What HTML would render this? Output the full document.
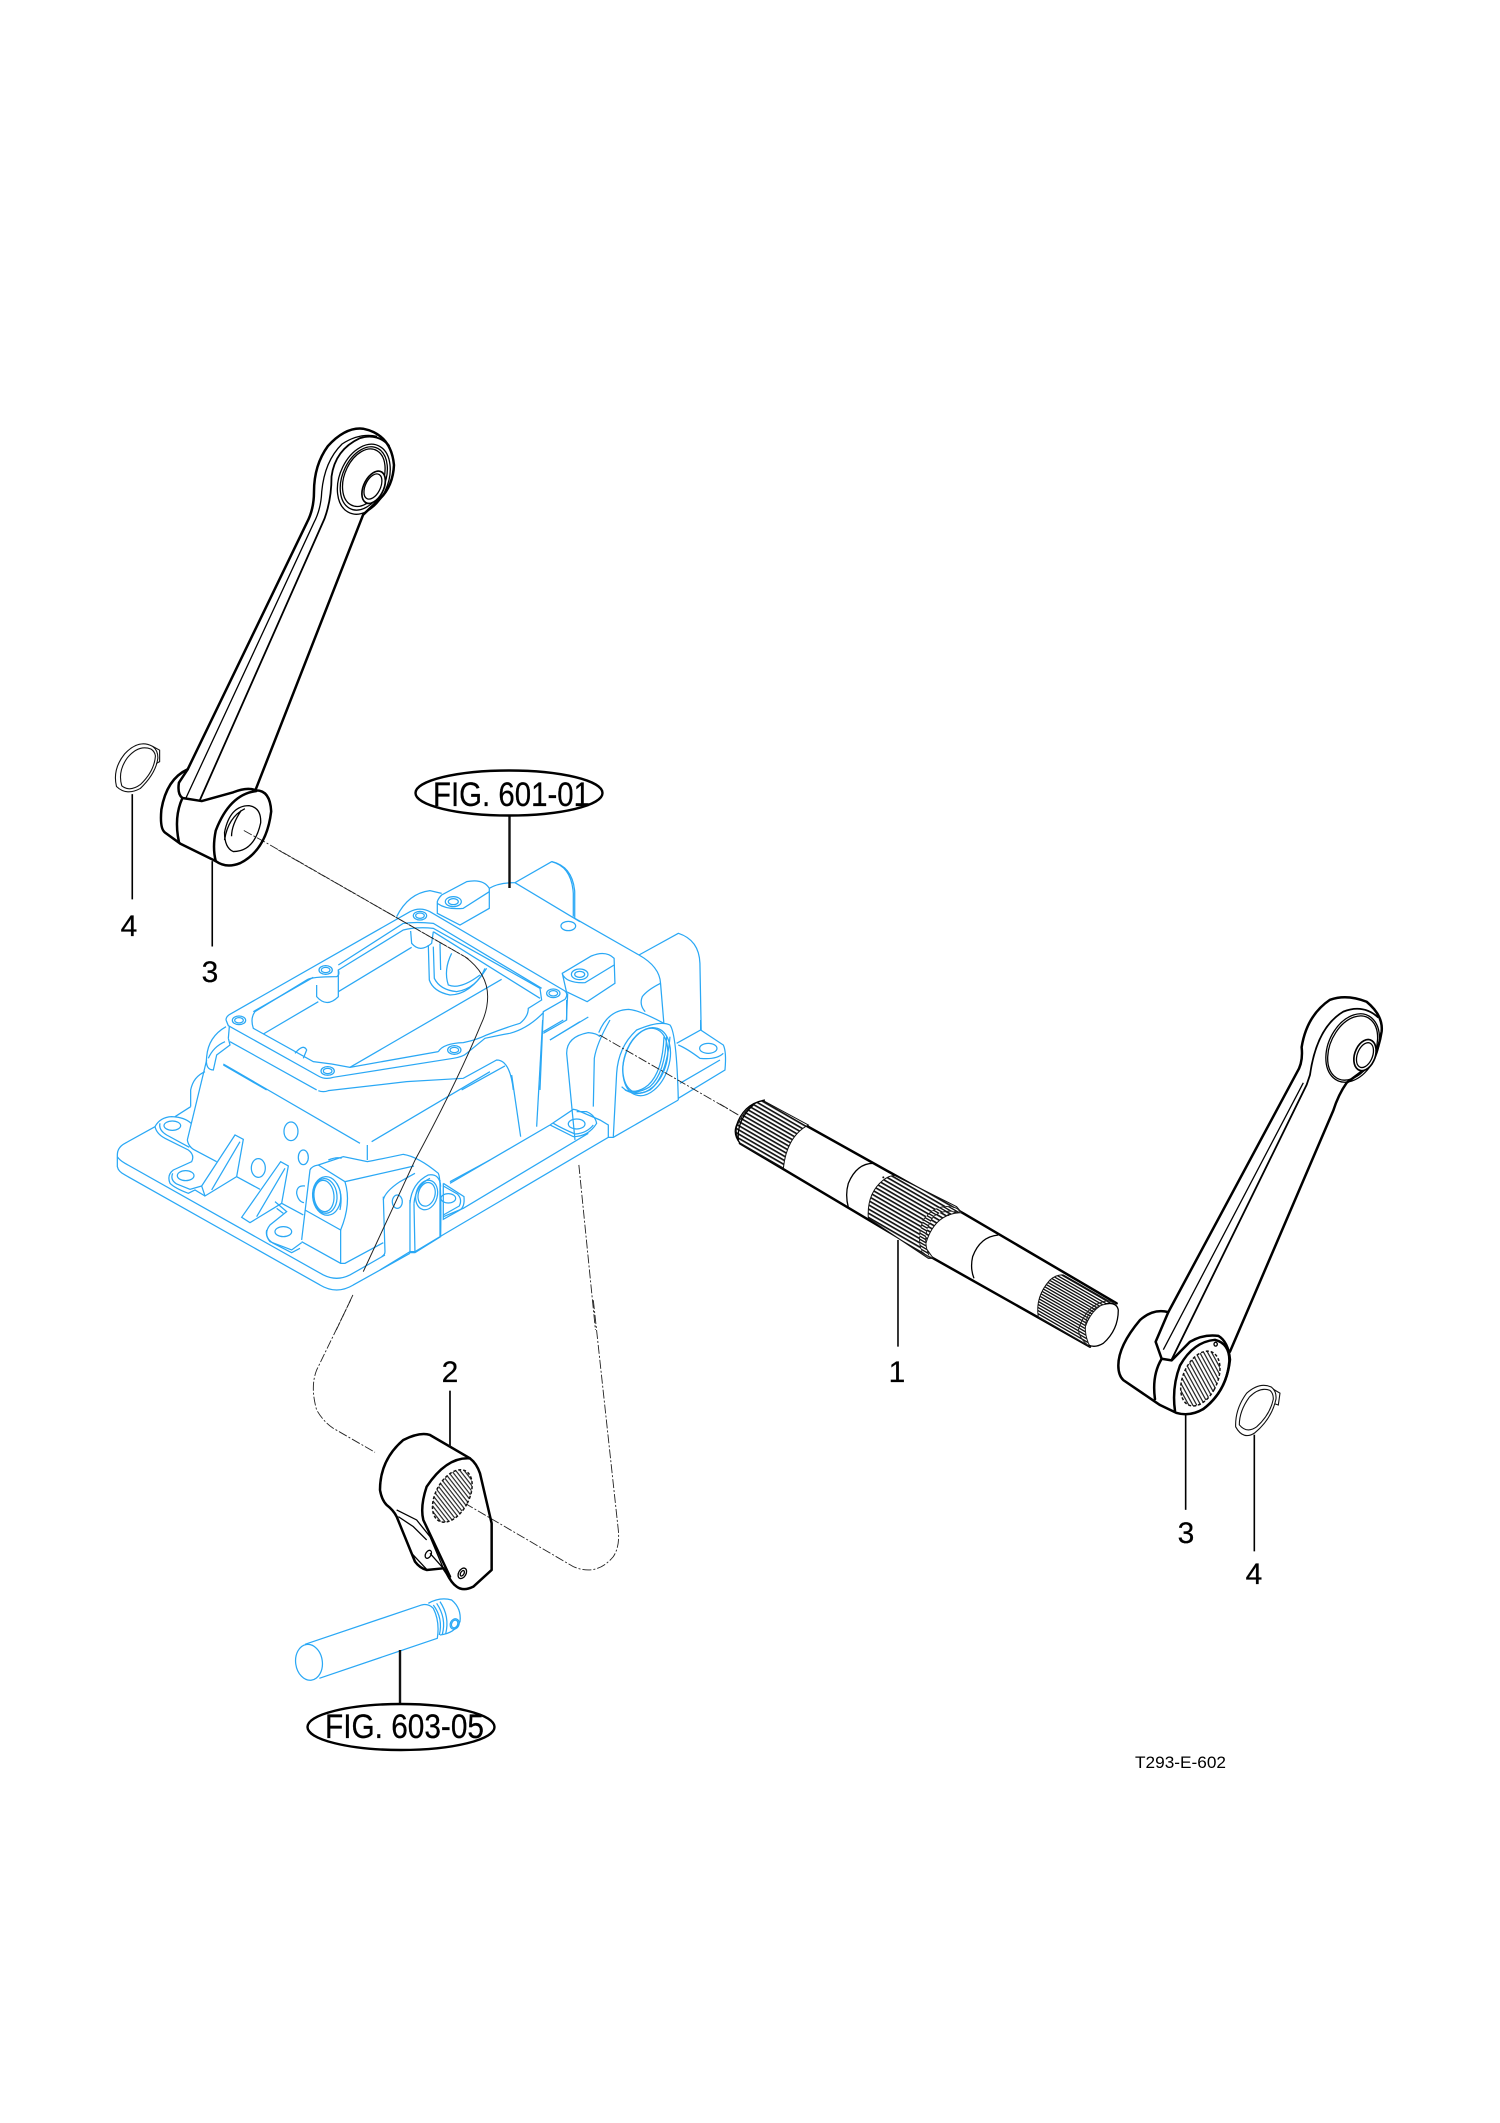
<!DOCTYPE html>
<html><head><meta charset="utf-8"><title>T293-E-602</title>
<style>
html,body{margin:0;padding:0;background:#fff}
svg{display:block;position:absolute;left:0;top:0}
path,ellipse,line,polyline{vector-effect:non-scaling-stroke}
.b path,.b ellipse{fill:none;stroke:#2aa8f5;stroke-width:1.25}
.k{stroke:#000;stroke-width:2.5;fill:none;stroke-linejoin:round;stroke-linecap:round}
.k2{stroke:#000;stroke-width:1.3;fill:none}
.r{stroke:#111;stroke-width:1.1;fill:none}
.d{stroke:#222;stroke-width:.9;fill:none;stroke-dasharray:9 2 2 2}
.s{stroke:#222;stroke-width:1;fill:none}
text{font-family:"Liberation Sans",Arial,sans-serif;fill:#000;stroke:#000;stroke-width:.25}
.n{font-size:30px;text-anchor:middle}
</style></head><body>
<svg width="1500" height="2123" viewBox="0 0 1500 2123" xmlns="http://www.w3.org/2000/svg">
<defs>
<pattern id="h" patternUnits="userSpaceOnUse" width="40" height="11" patternTransform="rotate(30)"><rect width="40" height="11" fill="#fff"/><rect width="40" height="5" fill="#111"/></pattern>
<pattern id="h2" patternUnits="userSpaceOnUse" width="40" height="8" patternTransform="rotate(30)"><rect width="40" height="8" fill="#fff"/><rect width="40" height="4" fill="#111"/></pattern>
<pattern id="h3" patternUnits="userSpaceOnUse" width="40" height="10" patternTransform="rotate(24)"><rect width="40" height="10" fill="#fff"/><rect width="40" height="3.5" fill="#222"/></pattern>
</defs>

<!-- Housing: bottom-left -->
<g class="b" transform="translate(110 1060) scale(.3333)">
<path d="M135,200 L45,250 Q22,262 22,285 L22,320 Q25,335 45,345 L630,675 Q680,705 730,675 L900,580"/>
<path d="M22,290 Q28,300 45,310 L640,645 Q680,665 720,645 L825,585"/>
<path d="M135,200 Q150,172 185,170 Q225,172 243,190"/>
<path d="M135,200 Q140,222 165,235 L235,270 Q255,285 245,305 L190,330 Q170,345 180,370 Q195,385 235,400 L255,390 L285,408"/>
<path d="M150,190 Q145,210 170,225 L238,262"/>
<path d="M242,140 L195,170"/>
<path d="M232,240 L290,0"/>
<path d="M242,140 L242,90 Q250,50 285,35"/>
<path d="M232,240 Q235,258 250,268 L320,305"/>
<ellipse cx="187" cy="197" rx="25" ry="14"/><ellipse cx="227" cy="347" rx="25" ry="15"/>
<path d="M275,378 L375,225 L400,238 L380,350 L285,408 Z"/>
<path d="M305,390 L390,245"/>
<path d="M188,340 Q180,360 200,372 L240,388 L275,378"/>
<path d="M380,350 L450,388"/>
<path d="M395,472 L512,305 L535,318 L515,430 L420,488 Z"/>
<path d="M440,470 L525,325"/>
<path d="M495,425 L530,455 L480,495 Q460,520 480,545 L545,570 L575,548"/>
<path d="M500,445 L520,460"/>
<path d="M470,510 Q465,535 490,550 L545,578 L570,565"/>
<ellipse cx="520" cy="515" rx="25" ry="15"/>
<ellipse cx="543" cy="214" rx="21" ry="28"/><ellipse cx="445" cy="324" rx="21" ry="28"/><ellipse cx="580" cy="292" rx="15" ry="22"/>
<path d="M585,378 Q560,375 560,400 Q565,425 582,428"/>
<path d="M515,430 L580,465"/>
<path d="M340,12 L750,250"/><path d="M785,245 L1140,35"/><path d="M772,255 L772,300"/>
<path d="M575,540 L600,330 Q605,318 625,315 L700,290 L772,305 Q800,300 880,283 Q925,290 985,340 Q995,360 992,530 L915,578 L900,578 L900,420"/>
<path d="M625,315 L705,365 L912,318"/>
<path d="M705,365 Q725,430 692,510 L585,450"/>
<path d="M575,545 L692,610 L705,610 L820,548"/>
<path d="M692,510 L692,610"/>
<path d="M820,410 L825,575 Q825,585 815,590"/>
<path d="M820,420 Q825,395 870,365 L915,340"/>
<ellipse cx="650" cy="408" rx="42" ry="58" transform="rotate(-5 650 408)"/>
<ellipse cx="645" cy="408" rx="36" ry="52" transform="rotate(-5 645 408)"/>
<ellipse cx="642" cy="408" rx="30" ry="47" transform="rotate(-5 642 408)"/>
<path d="M680,370 Q700,400 690,450"/>
<ellipse cx="862" cy="425" rx="15" ry="20"/>
<path d="M900,430 Q905,370 955,345 Q990,340 992,380"/>
<path d="M912,430 Q918,375 960,355"/>
<path d="M912,430 L915,578"/>
<ellipse cx="950" cy="405" rx="32" ry="45" transform="rotate(15 950 405)"/>
<ellipse cx="950" cy="403" rx="25" ry="36" transform="rotate(15 950 403)"/>
<path d="M655,300 Q680,290 695,295"/>
<path d="M1000,370 L1062,410 Q1065,440 1050,450 L1000,478 L1000,370"/>
<path d="M1000,378 L1042,402 Q1058,418 1048,438 L1000,465"/>
<ellipse cx="1015" cy="415" rx="22" ry="14"/>
<path d="M1020,365 L1140,300"/>
</g>

<!-- Housing: bottom-right -->
<g class="b" transform="translate(380 1020) scale(.3333)">
<path d="M180,650 L685,352 L700,352 L895,240"/>
<path d="M190,590 L250,565 L625,340"/>
<path d="M210,490 L510,315"/>
<path d="M510,315 L580,268 L590,270 L660,300 L685,315 L685,352"/>
<path d="M510,315 Q530,325 580,350 Q625,350 650,310 Q645,285 620,275 Q610,275 590,275"/>
<path d="M520,310 Q545,325 585,342 Q620,340 640,315"/>
<ellipse cx="590" cy="312" rx="25" ry="15"/>
<path d="M585,360 L560,100 Q560,50 625,38 Q650,40 660,50"/>
<path d="M640,260 L643,115 Q650,70 690,0"/>
<path d="M470,320 L488,0"/>
<path d="M510,60 L625,-9"/>
<path d="M490,35 L550,0"/>
<path d="M700,350 L710,160 Q715,80 770,30 Q840,0 870,15 Q890,40 895,240"/>
<ellipse cx="800" cy="125" rx="67" ry="105" transform="rotate(18 800 125)"/>
<ellipse cx="796" cy="122" rx="63" ry="100" transform="rotate(18 796 122)"/>
<path d="M725,200 Q760,235 810,210 Q860,170 870,50"/>
<path d="M735,210 Q770,225 810,200 Q855,160 860,50"/>
<path d="M745,212 Q775,220 805,195 Q848,155 852,50"/>
<path d="M890,70 L962,30 L1030,75 Q1040,95 1035,150 L895,235"/>
<path d="M962,0 L962,30"/>
<path d="M895,75 Q920,85 960,115 Q1010,120 1030,100"/>
<ellipse cx="985" cy="85" rx="26" ry="15"/>
<path d="M1020,120 L900,190"/>
<path d="M395,165 L422,350"/>
<path d="M105,695 L180,650 L180,480"/>
<path d="M0,750 L90,695 L105,695"/>
</g>

<!-- Housing: top flange -->
<g class="b" transform="translate(200 860) scale(.3333)">
<path d="M78,480 Q78,468 95,460 L630,155 Q660,140 690,155 L1090,390 Q1108,400 1095,418 L1030,455 L1020,690"/>
<path d="M78,480 L85,497 L355,648 Q375,660 400,652 L760,595 Q790,590 800,580 L855,535 Q900,525 930,520 Q985,505 1030,458"/>
<path d="M88,500 L85,535"/>
<path d="M715,575 Q730,550 790,548 Q830,540 860,525 Q910,505 960,490 Q985,470 985,445 L1025,420 L1020,385 L700,205 Q650,200 610,210 L415,330 Q420,345 410,350 Q335,350 320,360 L165,455 Q150,475 160,505 L340,605 L395,612 L450,622 L715,575"/>
<path d="M160,455 L340,352"/>
<path d="M415,315 L610,190 Q650,185 700,190 L1025,385"/>
<path d="M190,522 L355,425"/><path d="M415,395 L635,262"/><path d="M450,622 L905,358"/><path d="M700,215 L1020,415"/>
<path d="M350,375 L350,410 Q380,445 415,410 L415,330"/>
<path d="M632,213 L635,250 Q660,280 695,250 L700,215"/>
<path d="M685,255 L688,360 Q700,395 750,405 Q810,405 860,325"/>
<path d="M700,260 L703,355 Q720,390 770,395 Q830,385 855,325"/>
<path d="M720,250 L722,330"/>
<path d="M755,280 Q730,330 745,375 Q780,390 840,345"/>
<path d="M78,500 Q25,530 20,590 Q15,630 40,630 L50,585 L90,555 L85,535"/>
<path d="M75,545 Q40,560 25,595"/>
<path d="M285,580 Q310,550 320,570 L310,595"/>
<path d="M90,545 L350,690"/><path d="M70,615 L200,690"/>
<path d="M355,692 Q370,698 385,692 L620,665 L790,655 L890,600 Q930,600 940,690"/>
<path d="M785,690 L915,618"/>
<ellipse cx="117" cy="481" rx="20" ry="13"/><ellipse cx="117" cy="481" rx="13" ry="8"/>
<ellipse cx="377" cy="330" rx="20" ry="13"/><ellipse cx="377" cy="330" rx="13" ry="8"/>
<ellipse cx="660" cy="167" rx="20" ry="13"/><ellipse cx="660" cy="167" rx="13" ry="8"/>
<ellipse cx="1060" cy="400" rx="20" ry="13"/><ellipse cx="1060" cy="400" rx="13" ry="8"/>
<ellipse cx="383" cy="633" rx="20" ry="13"/><ellipse cx="383" cy="633" rx="13" ry="8"/>
<ellipse cx="763" cy="570" rx="20" ry="13"/><ellipse cx="763" cy="570" rx="13" ry="8"/>
<path d="M590,170 Q625,100 690,92 L725,100"/>
<path d="M712,125 Q715,115 725,105 L800,65 Q850,55 868,85 L868,145 L780,195 L712,160 Z"/>
<path d="M712,130 Q740,150 790,145 L868,95"/>
<ellipse cx="760" cy="125" rx="24" ry="15"/><ellipse cx="760" cy="125" rx="15" ry="9"/>
<path d="M868,85 Q895,68 945,68 L1055,5 Q1115,20 1120,100 L1120,170"/>
<path d="M945,68 L1140,185"/>
<ellipse cx="1105" cy="198" rx="22" ry="14"/>
<path d="M1030,520 L1100,480 L1100,420"/>
<path d="M1050,540 L1140,485"/>
</g>

<!-- Housing: upper right -->
<g class="b" transform="translate(100 850) scale(.4146 .3333)">
<path d="M1090,35 Q1140,50 1145,125 L1145,205"/>
<path d="M1145,205 L1300,315 Q1350,350 1352,400 L1360,520"/>
<path d="M1300,315 L1395,250 Q1445,270 1447,340 L1450,540"/>
<path d="M1115,370 L1185,318 Q1220,300 1240,325 L1242,400 L1175,455 L1125,425 Z"/>
<path d="M1115,372 Q1125,400 1170,398 L1240,345"/>
<ellipse cx="1157" cy="373" rx="20" ry="16"/><ellipse cx="1157" cy="373" rx="12" ry="9"/>
<path d="M1352,400 Q1320,420 1308,440 Q1300,465 1315,485"/>
<path d="M1125,510 L1128,430"/>
<path d="M1203,548 Q1225,480 1275,478 Q1300,480 1360,520"/>
</g>

<!-- Dashed axes -->
<g transform="translate(100 850) scale(.4146 .3333)">
<path class="d" d="M430,0 L880,320"/>
<path class="s" d="M880,320 Q935,370 935,440 Q935,480 920,520 Q860,700 760,930 L635,1265"/>
<path class="d" d="M1205,555 L1540,795"/>
<path class="d" d="M1155,945 L1195,1440"/>
<path class="d" d="M610,1335 L570,1440"/>
</g>
<g transform="translate(280 1300) scale(.3333)">
<path class="d" d="M212,0 L110,210 Q90,260 110,330 Q130,365 160,385 L285,457"/>
<path class="d" d="M555,610 L880,800 Q950,830 1000,770 Q1020,740 1015,690 L940,0"/>
</g>
<g transform="translate(100 400) scale(.3508 .3827)"><path class="d" d="M410,1125 L470,1155 L1050,1460"/></g>

<!-- Left arm -->
<g transform="translate(100 400) scale(.3508 .3827)">
<path class="k" d="M250,965 L590,320 Q610,285 610,240 Q610,170 650,120 Q700,70 750,75 Q830,90 838,170 Q835,230 790,265 L750,300 L445,1015"/>
<path class="k2" style="stroke-width:1.8" d="M285,1045 L640,310 Q660,260 660,200 Q670,130 740,100 Q790,85 825,120"/>
<path class="k2" d="M245,1040 L610,320 Q630,285 632,240 Q640,160 690,115 Q740,85 790,95"/>
<ellipse class="k2" cx="752" cy="207" rx="68" ry="97" transform="rotate(28 752 207)"/>
<ellipse class="k2" cx="752" cy="205" rx="60" ry="88" transform="rotate(28 752 205)"/>
<ellipse class="k2" cx="752" cy="203" rx="54" ry="80" transform="rotate(28 752 203)"/>
<ellipse class="k" cx="780" cy="228" rx="28" ry="46" transform="rotate(30 780 228)" style="stroke-width:1.7;fill:#fff"/>
<ellipse class="k2" cx="778" cy="226" rx="21" ry="36" transform="rotate(30 778 226)"/>
<path class="k" d="M250,965 Q190,990 175,1070 Q170,1120 185,1130 L230,1160 L330,1205 Q360,1225 400,1210 Q475,1175 488,1075 Q485,1020 445,1020 Q420,1010 380,1025 L290,1048 L235,1040 Q220,1030 225,1000 Z"/>
<path class="k" d="M235,1040 Q210,1090 225,1155"/>
<path class="k" d="M445,1022 Q370,1030 330,1125 Q320,1170 330,1205"/>
<path class="k2" d="M380,1180 Q355,1170 355,1130 Q370,1060 425,1060 Q460,1065 458,1105 Q440,1180 380,1180Z"/>
<path class="k2" d="M413,1068 Q365,1090 355,1150 M403,1072 Q375,1110 375,1140"/>
<!-- ring -->
<path class="r" d="M150,905 Q110,885 70,925 Q35,965 47,1010 Q75,1035 115,1015 Q160,975 165,935 Q165,915 150,905Z"/>
<path class="r" d="M145,912 Q110,900 78,935 Q50,970 62,1008 Q85,1025 115,1005 Q155,970 158,930 Q156,918 145,912Z"/>
<path class="r" d="M150,905 L170,915 L170,945 L160,950"/>
<line class="k2" x1="92" y1="1030" x2="92" y2="1305" style="stroke-width:1.6"/>
<line class="k2" x1="320" y1="1205" x2="320" y2="1428" style="stroke-width:1.6"/>
</g>

<!-- Right arm -->
<g transform="translate(1090 980) scale(.3333 .3954)">
<path class="k" d="M235,840 L620,235 Q640,210 635,170 Q650,90 720,50 Q770,35 830,55 Q880,90 875,130 Q860,210 810,235 L770,260 Q745,290 730,330 L420,940"/>
<path class="k2" style="stroke-width:1.8" d="M245,960 L650,265 L660,240 Q680,120 760,80 Q820,60 865,95"/>
<path class="k2" d="M220,935 L640,260"/>
<ellipse class="k2" cx="788" cy="172" rx="70" ry="95" transform="rotate(38 788 172)"/>
<ellipse class="k2" cx="788" cy="172" rx="64" ry="90" transform="rotate(38 788 172)"/>
<ellipse class="k" cx="825" cy="190" rx="30" ry="42" transform="rotate(30 825 190)" style="stroke-width:1.7;fill:#fff"/>
<ellipse class="k2" cx="825" cy="190" rx="22" ry="34" transform="rotate(30 825 190)"/>
<path class="k" d="M235,840 Q190,830 150,860 Q85,925 85,975 Q85,1000 100,1012 L210,1075 L260,1095 Q300,1105 340,1085 Q410,1040 420,960 Q415,915 385,900 Q340,895 300,915 L245,962 L215,958 L197,915 Z"/>
<path class="k" d="M215,958 Q185,1000 195,1060"/>
<path class="k" d="M255,1090 Q245,1030 270,975 Q310,915 375,910 Q420,920 418,965 Q410,1040 340,1085"/>
<ellipse cx="331" cy="1008" rx="50" ry="76" transform="rotate(33 331 1008)" fill="url(#h3)" stroke="#111" stroke-width="1.5" stroke-dasharray="3 2"/>
<ellipse cx="377" cy="921" rx="5" ry="5" class="k2"/>
<path class="r" d="M545,1030 Q510,1015 470,1045 Q435,1085 437,1130 Q460,1165 495,1145 Q545,1110 558,1060 Q560,1040 545,1030Z"/>
<path class="r" d="M540,1038 Q510,1028 478,1055 Q448,1090 448,1125 Q470,1148 500,1130 Q540,1100 550,1060 Q550,1045 540,1038Z"/>
<path class="r" d="M550,1035 L570,1045 L565,1075 L555,1072"/>
<line class="k2" x1="287" y1="1100" x2="287" y2="1340" style="stroke-width:1.6"/>
<line class="k2" x1="493" y1="1150" x2="493" y2="1445" style="stroke-width:1.6"/>
</g>

<!-- Shaft -->
<g transform="translate(720 1080) scale(.3333)">
<path class="k" d="M130,65 L730,400 L1190,670"/>
<path class="k" d="M60,190 L640,535 L1110,800"/>
<path fill="url(#h)" stroke="#111" stroke-width="1" d="M130,62 L265,135 Q200,170 190,265 L60,190 Q45,165 50,140 Q80,70 130,62Z"/>
<path class="k2" d="M60,190 Q40,165 48,140 Q70,70 135,60 M55,180 Q50,120 100,75"/>
<path fill="url(#h)" stroke="#111" stroke-width="1" d="M525,287 L710,380 L725,398 Q640,400 615,500 L640,535 L625,535 L445,415 Q440,340 490,300 Q510,285 525,287Z"/>
<path fill="url(#h2)" stroke="#222" stroke-width="1" stroke-dasharray="5 2" d="M712,385 Q650,365 610,420 Q590,470 605,515 L630,533 Q600,470 640,410 Q670,385 722,398Z"/>
<path fill="url(#h2)" stroke="#111" stroke-width="1" d="M1030,585 L1170,665 Q1110,680 1090,760 Q1095,790 1110,800 L955,712 Q945,650 990,600 Q1010,583 1030,585Z"/>
<path fill="url(#h2)" stroke="#222" stroke-width="1" d="M1165,662 Q1100,670 1075,750 Q1080,780 1110,800 Q1085,750 1105,705 Q1130,670 1185,670Z"/>
<path class="k2" d="M1155,672 Q1190,665 1195,690 Q1195,750 1150,790 Q1125,805 1105,795"/>
<path class="k2" d="M460,250 Q410,250 385,310 Q375,345 385,382"/>
<path class="k2" d="M835,465 Q780,470 758,530 Q750,565 762,595"/>
<ellipse cx="490" cy="292" rx="3" ry="3" fill="#111"/>
<ellipse cx="685" cy="405" rx="3" ry="3" fill="#111"/>
<line class="d" x1="0" y1="72" x2="55" y2="105"/>
<line x1="534" y1="480" x2="534" y2="800" stroke="#222" stroke-width="1.8"/>
</g>

<!-- Cam arm -->
<g transform="translate(280 1300) scale(.3333)">
<path class="k" d="M300,570 Q300,480 370,420 Q420,395 450,405 L570,475 Q590,490 600,520 L635,670 L635,810 L580,860 Q550,875 530,860 Q515,850 500,820 L490,805 L440,810 Q420,805 405,785 L350,650 Q340,630 320,615 Q305,600 300,570 Z"/>
<path class="k" d="M570,475 Q500,470 440,560 Q420,620 430,660 L510,830"/>
<path class="k2" d="M350,630 L410,660 L450,710 L490,805 M355,650 L400,680 L440,720 M395,760 L440,808"/>
<ellipse class="k2" cx="445" cy="763" rx="8" ry="13" transform="rotate(30 445 763)"/>
<path class="k2" d="M450,760 L490,805"/>
<ellipse cx="547" cy="820" rx="11" ry="17" transform="rotate(30 547 820)" class="k2"/>
<ellipse cx="547" cy="820" rx="5" ry="9" transform="rotate(30 547 820)" class="k2"/>
<ellipse cx="517" cy="588" rx="50" ry="85" transform="rotate(28 517 588)" fill="url(#h3)" stroke="#111" stroke-width="1.5" stroke-dasharray="3 2"/>
<line x1="510" y1="272" x2="510" y2="440" stroke="#111" stroke-width="1.8"/>
</g>

<!-- Pin -->
<g class="b" transform="translate(280 1300) scale(.3333)">
<ellipse cx="87" cy="1087" rx="40" ry="54" transform="rotate(-8 87 1087)"/>
<path d="M75,1033 L425,915 Q445,910 460,925 Q480,965 472,1015 L118,1135"/>
<path d="M445,910 Q480,890 515,900 Q545,925 540,965 Q525,1000 480,1005"/>
<path d="M460,915 Q490,955 478,1005 M470,910 Q500,955 487,1003 M480,905 Q510,950 497,1002"/>
<ellipse cx="524" cy="972" rx="13" ry="16" transform="rotate(25 524 972)"/>
<ellipse cx="524" cy="972" rx="9" ry="12" transform="rotate(25 524 972)"/>
</g>

<!-- Callouts -->
<line x1="509.5" y1="816" x2="509.5" y2="888" stroke="#111" stroke-width="2.4"/>
<line x1="400" y1="1650" x2="400" y2="1704" stroke="#111" stroke-width="2.4"/>
<ellipse cx="509" cy="793" rx="93.5" ry="22.5" fill="none" stroke="#000" stroke-width="2.4"/>
<ellipse cx="401" cy="1727" rx="93.5" ry="23" fill="none" stroke="#000" stroke-width="2.4"/>
<text x="433" y="806" font-size="34" textLength="157" lengthAdjust="spacingAndGlyphs">FIG. 601-01</text>
<text x="325" y="1738" font-size="34" textLength="159" lengthAdjust="spacingAndGlyphs">FIG. 603-05</text>
<text class="n" x="129" y="936">4</text>
<text class="n" x="210" y="982">3</text>
<text class="n" x="450" y="1382">2</text>
<text class="n" x="897" y="1382">1</text>
<text class="n" x="1186" y="1543">3</text>
<text class="n" x="1254" y="1584">4</text>
<text x="1135" y="1768" font-size="17" textLength="91" lengthAdjust="spacingAndGlyphs" style="stroke:none">T293-E-602</text>
</svg>
</body></html>
